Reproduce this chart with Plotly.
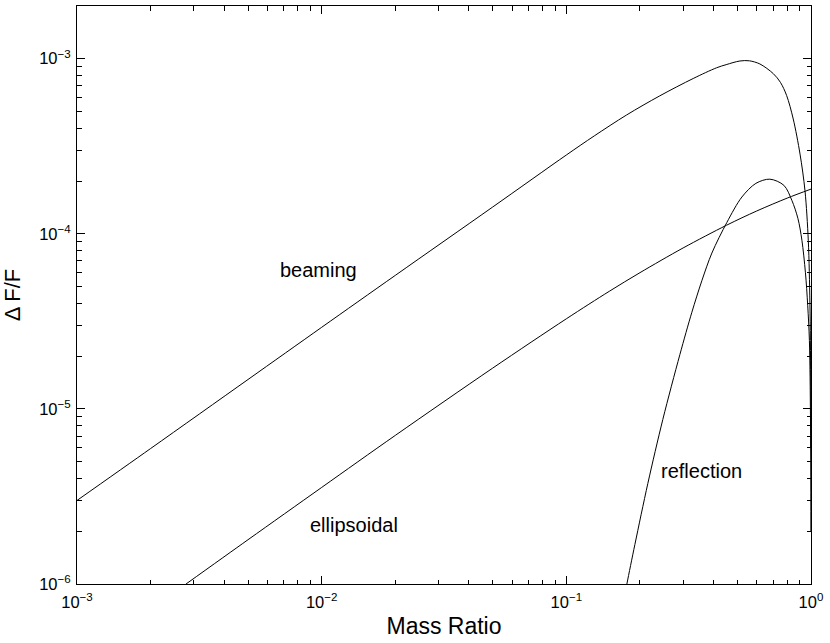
import numpy as np
import plotly.graph_objects as go

# ---- data ----
beam_q = [0.001, 0.002, 0.005, 0.01, 0.02, 0.05, 0.1, 0.13, 0.176, 0.241, 0.33,
          0.411, 0.45, 0.512, 0.56, 0.618, 0.701, 0.75, 0.795, 0.846, 0.902,
          0.945, 0.975, 0.99, 0.997, 0.999]
beam_v = [3.0e-6, 5.94e-6, 1.472e-5, 2.924e-5, 5.79e-5, 1.422e-4, 2.818e-4,
          3.622e-4, 4.764e-4, 6.138e-4, 7.709e-4, 8.872e-4, 9.247e-4, 9.705e-4,
          9.727e-4, 9.333e-4, 8.222e-4, 7.328e-4, 6.166e-4, 4.529e-4, 2.851e-4,
          1.762e-4, 9.12e-5, 4.0e-5, 1.5e-5, 6.0e-6]

ell_q = [0.00279, 0.005, 0.01, 0.02, 0.05, 0.1, 0.15, 0.2, 0.3, 0.452, 0.6,
         0.8, 1.0]
ell_v = [1.0e-6, 1.79e-6, 3.56e-6, 7.06e-6, 1.71e-5, 3.27e-5, 4.70e-5, 6.0e-5,
         8.3e-5, 1.12e-4, 1.35e-4, 1.6e-4, 1.8e-4]

refl_q = [0.17, 0.1768, 0.1906, 0.2154, 0.248, 0.2911, 0.3259, 0.358, 0.3934,
          0.453, 0.5218, 0.5953, 0.6789, 0.7747, 0.8352, 0.884, 0.918, 0.9487,
          0.9694, 0.9851, 0.995, 0.999]
refl_v = [7.5e-7, 1.0e-6, 1.679e-6, 3.758e-6, 8.71e-6, 2.042e-5, 3.565e-5,
          5.395e-5, 7.762e-5, 1.161e-4, 1.622e-4, 1.941e-4, 2.051e-4, 1.892e-4,
          1.552e-4, 1.225e-4, 9.18e-5, 6.03e-5, 3.91e-5, 2.46e-5, 9.0e-6, 2.0e-6]

x_ticks = [1e-3, 1e-2, 1e-1, 1e0]
x_ticktext = ["10<sup>−3</sup>", "10<sup>−2</sup>", "10<sup>−1</sup>", "10<sup>0</sup>"]
y_ticks = [1e-6, 1e-5, 1e-4, 1e-3]
y_ticktext = ["10<sup>−6</sup>", "10<sup>−5</sup>", "10<sup>−4</sup>", "10<sup>−3</sup>"]

labels = ["beaming", "ellipsoidal", "reflection"]
label_q = [0.00973, 0.01358, 0.358]
label_v = [6.18e-5, 2.16e-6, 4.40e-6]

FONT = "Liberation Sans, Arial, Helvetica, sans-serif"

fig = go.Figure()
for q, v in [(beam_q, beam_v), (ell_q, ell_v), (refl_q, refl_v)]:
    fig.add_trace(go.Scatter(x=q, y=v, mode="lines",
                             line=dict(color="black", width=1, shape="spline", smoothing=0.9),
                             showlegend=False, hoverinfo="skip"))

for t, q, v in zip(labels, label_q, label_v):
    fig.add_annotation(x=np.log10(q), y=np.log10(v), text=t, showarrow=False,
                       font=dict(size=20, color="black", family=FONT),
                       xanchor="center", yanchor="middle")

minor_x = [m * 10.0 ** e for e in range(-3, 0) for m in range(2, 10)]
minor_y = [m * 10.0 ** e for e in range(-6, -2) for m in range(2, 10) if m * 10.0 ** e <= 2e-3]

axis_common = dict(showgrid=False, zeroline=False, showline=True, linecolor="black",
                   linewidth=1, mirror="ticks", ticks="inside", ticklen=8,
                   tickcolor="black", tickwidth=1,
                   tickfont=dict(size=16.5, color="black", family=FONT))

fig.update_xaxes(type="log", range=[-3, 0], tickmode="array", tickvals=x_ticks,
                 ticktext=x_ticktext, ticklabelstandoff=3,
                 title=dict(text="Mass Ratio", font=dict(size=23, color="black", family=FONT),
                            standoff=8),
                 minor=dict(tickmode="array", tickvals=minor_x, ticks="inside",
                            ticklen=4.5, tickcolor="black", tickwidth=1, showgrid=False),
                 **axis_common)
fig.update_yaxes(type="log", range=[-6, np.log10(2e-3)], tickmode="array",
                 tickvals=y_ticks, ticktext=y_ticktext, ticklabelstandoff=2,
                 title=dict(text="Δ F/F", font=dict(size=22, color="black", family=FONT),
                            standoff=16),
                 minor=dict(tickmode="array", tickvals=minor_y, ticks="inside",
                            ticklen=4.5, tickcolor="black", tickwidth=1, showgrid=False),
                 **axis_common)

fig.update_layout(width=830, height=643,
                  margin=dict(l=77, r=19, t=6, b=59, autoexpand=False),
                  plot_bgcolor="white", paper_bgcolor="white",
                  font=dict(family=FONT, color="black"))

fig.write_html("out.html", config={"displayModeBar": False},
               post_script="document.body.style.margin='0px';")
